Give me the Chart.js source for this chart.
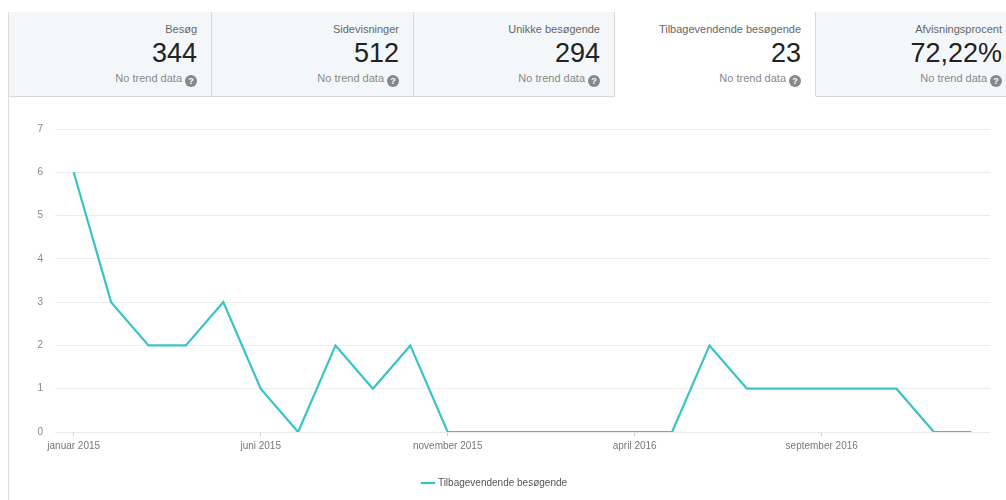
<!DOCTYPE html>
<html>
<head>
<meta charset="utf-8">
<script src="https://cdn.jsdelivr.net/npm/chart.js@4"></script>
<style>
  html, body { margin: 0; padding: 0; background: #fff; width: 1006px; height: 500px; overflow: hidden; font-family: "Liberation Sans", Arial, sans-serif; }
  .panel { position: absolute; left: 8px; top: 12px; width: 1100px; height: 500px; border-left: 1px solid #dcdcdc; }
  .tabs { position: absolute; left: 0; top: 0; height: 85px; display: flex; }
  .tab { box-sizing: border-box; height: 85px; background: #f4f7f9; border-right: 1px solid #d9d9d9; border-bottom: 1px solid #d9d9d9; position: relative; }
  .tab.active { background: #fff; border-bottom: 1px solid #fff; }
  .tab .lbl { position: absolute; right: 14px; top: 11px; font-size: 11px; color: #666; white-space: nowrap; }
  .tab .val { position: absolute; right: 14px; top: 26px; font-size: 27px; color: #222; white-space: nowrap; }
  .tab .trend { position: absolute; right: 14px; top: 60px; font-size: 11px; color: #888; white-space: nowrap; }
  .q { display: inline-block; width: 12px; height: 12px; border-radius: 50%; background: #888; color: #fff; font-size: 9px; font-weight: bold; line-height: 12px; text-align: center; vertical-align: -2px; margin-left: 3px; }
  #wrap { position: absolute; left: 0; top: 100px; width: 1006px; height: 400px; }
</style>
</head>
<body>
<div class="panel">
  <div class="tabs" id="tabs"></div>
</div>
<div id="wrap"><canvas id="chart"></canvas></div>
<script>
// tab summary values
const tabLabels = ['Besøg', 'Sidevisninger', 'Unikke besøgende', 'Tilbagevendende besøgende', 'Afvisningsprocent'];
const tabValues = ['344', '512', '294', '23', '72,22%'];
const activeTab = 3;

// monthly series, januar 2015 - januar 2017
const months = ['januar', 'februar', 'marts', 'april', 'maj', 'juni', 'juli', 'august', 'september', 'oktober', 'november', 'december'];
const monthLabels = [];
for (let y = 2015; y <= 2017; y++) {
  months.forEach(m => monthLabels.push(`${m} ${y}`));
}
const labels = monthLabels.slice(0, 25);
const returningVisitors = [6, 3, 2, 2, 3, 1, 0, 2, 1, 2, 0, 0, 0, 0, 0, 0, 0, 2, 1, 1, 1, 1, 1, 0, 0];
const seriesName = 'Tilbagevendende besøgende';
const yTicks = [0, 1, 2, 3, 4, 5, 6, 7];

// build tabs
const tabWidths = [203, 202, 201, 201, 201];
const tabsEl = document.getElementById('tabs');
tabLabels.forEach((lbl, i) => {
  const t = document.createElement('div');
  t.className = 'tab' + (i === activeTab ? ' active' : '');
  t.style.width = tabWidths[i] + 'px';
  t.innerHTML = `<div class="lbl">${lbl}</div><div class="val">${tabValues[i]}</div>` +
    `<div class="trend">No trend data<span class="q">?</span></div>`;
  tabsEl.appendChild(t);
});

const teal = '#38c3c6';
const font = '"Liberation Sans", Arial, sans-serif';

new Chart(document.getElementById('chart'), {
  type: 'line',
  data: {
    labels: labels,
    datasets: [{
      label: seriesName,
      data: returningVisitors,
      borderColor: teal,
      backgroundColor: teal,
      borderWidth: 2.2,
      pointRadius: 0,
      tension: 0,
      fill: false
    }]
  },
  options: {
    responsive: true,
    maintainAspectRatio: false,
    animation: false,
    layout: { padding: { left: 0, right: 16, top: 29, bottom: 2 } },
    plugins: {
      tooltip: { enabled: false },
      legend: {
        position: 'bottom',
        labels: {
          usePointStyle: true,
          pointStyle: 'line',
          boxWidth: 14,
          color: '#555',
          font: { family: font, size: 10 },
          padding: 14
        }
      }
    },
    scales: {
      x: {
        offset: true,
        border: { display: false },
        grid: { display: true, drawOnChartArea: false, tickLength: 4, color: '#ccc' },
        afterFit: axis => { axis.height += 8; },
        ticks: {
          autoSkip: false,
          maxRotation: 0,
          color: '#777',
          padding: 4,
          font: { family: font, size: 10 },
          callback: function (val, idx) { return idx % 5 === 0 ? this.getLabelForValue(val) : null; }
        }
      },
      y: {
        min: yTicks[0],
        max: yTicks[yTicks.length - 1],
        border: { display: false },
        grid: { color: '#ececec', drawTicks: false },
        afterFit: axis => { axis.width = 55; },
        ticks: {
          stepSize: 1,
          color: '#888',
          padding: 12,
          font: { family: font, size: 10 }
        }
      }
    }
  }
});
</script>
</body>
</html>
